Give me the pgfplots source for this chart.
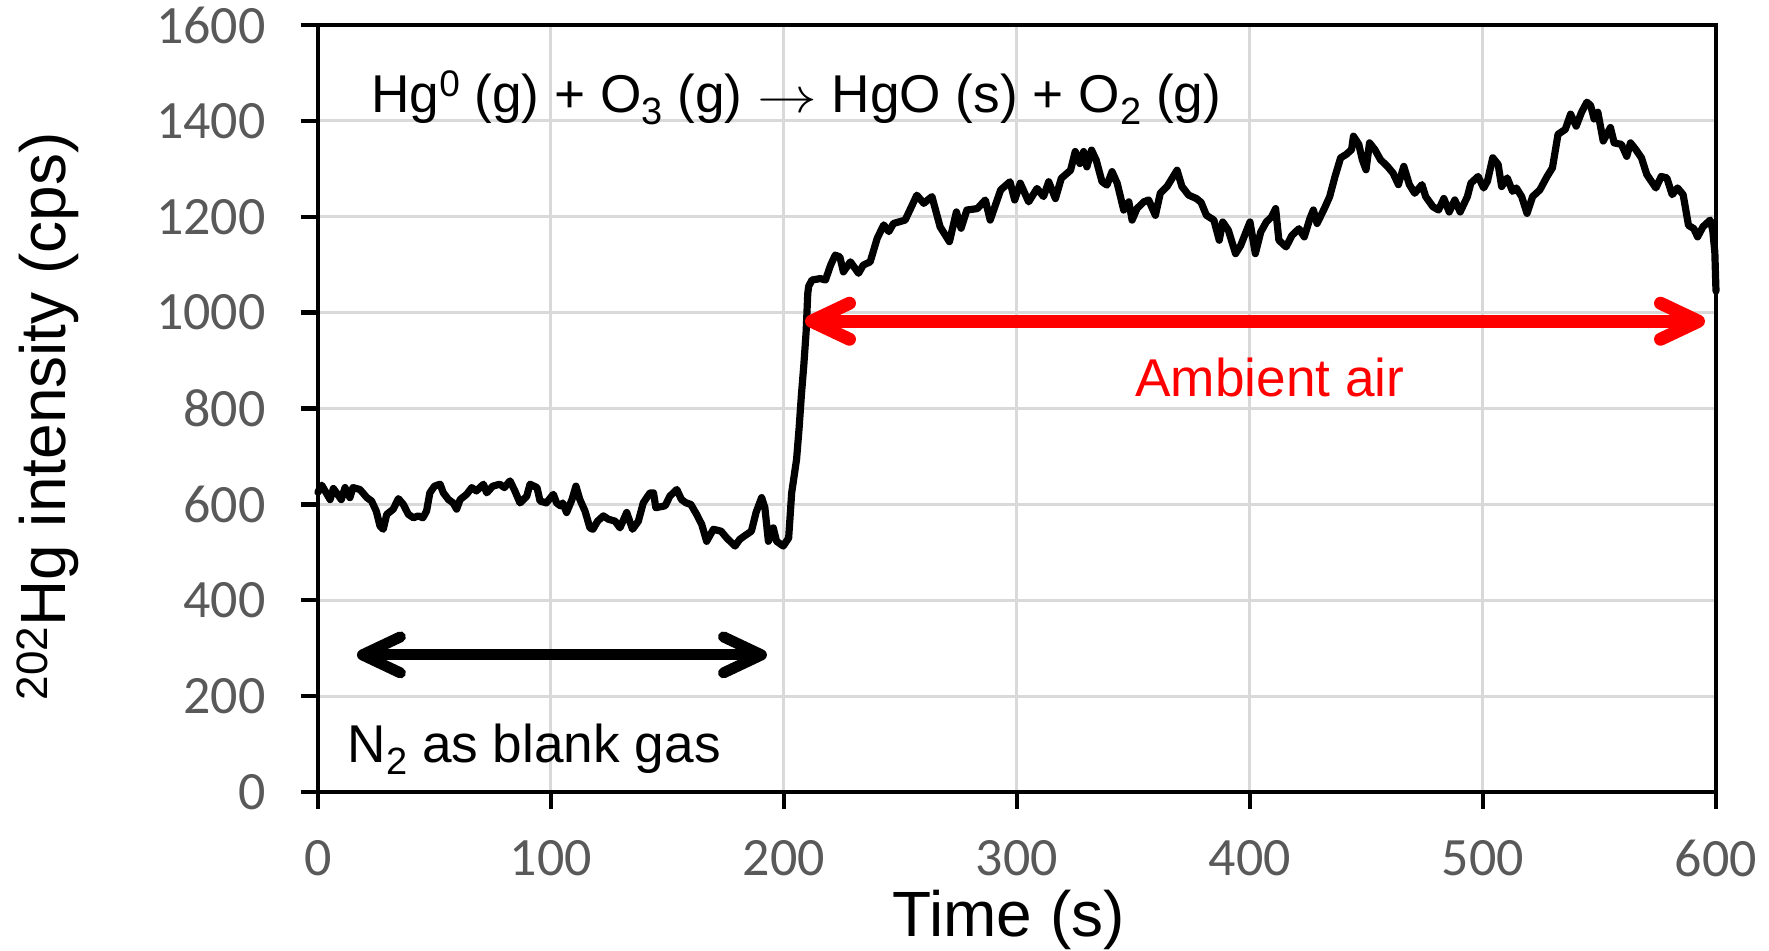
\documentclass[border=0pt]{standalone}
\usepackage{fontspec}
\setmainfont{Liberation Sans}
\newfontfamily\carlito{Carlito}
\usepackage{pgfplots}
\pgfplotsset{compat=1.18}
\usetikzlibrary{arrows.meta}
\definecolor{gridgray}{RGB}{217,217,217}
\definecolor{tickgray}{RGB}{89,89,89}
\newcommand\annfont{\fontsize{26.6}{30}\selectfont}
\newcommand\sub[1]{\raisebox{-0.22em}{\fontsize{19}{20}\selectfont #1}}
\newcommand\sups[1]{\raisebox{0.3em}{\fontsize{18.5}{20}\selectfont #1}}
\pgfplotstableread{
x y
0 625
0.9 635
1.6 640
5.2 610
6.6 633
10 610
11.6 635
13.7 614
15 635
18 631
21 614
23 607
25 586
26.6 555
28 548
29.5 579
32.3 590
34.5 612
36.6 600
38.8 579
41 572
43 576
45 572
46.6 586
48 624
50 638
52.4 642
53.8 624
56 610
58 603
59.5 590
61 610
63.8 621
66 635
68 628
71 642
72.4 624
75 638
78 642
80 635
82.4 649
84.5 628
86.7 603
89.6 617
91 642
94 635
95.3 607
98 603
101 621
102.4 603
104 597
105 603
106.7 583
109 610
110.7 638
112.4 610
114.6 586
116.7 551
118 548
120 565
122.5 576
124.6 569
127.5 565
129.6 551
132.5 583
135 548
137.5 565
139.6 603
142.5 624
144 624
145 593
149 597
151 617
154 631
156 610
158 603
160 600
162.5 579
164.7 558
166.8 523
169.7 548
173 544
175.4 530
179 513
181 527
183 534
186 544
188 583
190.4 614
191.8 593
193.3 523
195.4 551
196.8 523
199.7 513
202 530
203.3 624
205.4 694
206.5 760
207.5 830
208.5 890
209.5 960
210.2 1040
210.6 1055
212 1068
215.6 1071
217.8 1068
220 1099
222 1120
224 1116
225.5 1085
228.5 1106
232 1082
234 1099
237 1106
240 1155
242.8 1183
245 1169
247 1186
252 1193
255 1224
257 1245
260 1228
263.5 1242
267 1179
271 1148
274 1210
276 1176
278.5 1214
283 1217
286.4 1235
288.5 1193
293 1256
297 1273
299 1235
301.4 1270
305 1231
308.6 1259
311.4 1242
313.6 1273
316.5 1238
319 1280
323 1297
325 1336
327 1311
328.6 1336
330 1304
332 1339
334 1318
336.5 1273
338.6 1266
340.8 1294
343 1270
345.8 1214
348 1231
349.4 1193
351.5 1217
354.4 1231
356.5 1235
359.4 1203
361.5 1249
364.4 1263
368.7 1297
370.8 1263
373.7 1245
377 1238
379 1230
381.3 1203
384.5 1193
386.8 1151
388.3 1189
390.7 1172
393.8 1123
396 1140
397.7 1161
400 1189
402.3 1123
404.6 1168
407 1189
409.3 1200
411 1217
412.4 1151
415.5 1137
418 1161
421 1175
423.3 1158
425.7 1196
427.2 1214
428.8 1186
431.9 1217
434.2 1242
436.5 1284
438.9 1323
441.3 1330
443.6 1340
444.4 1368
446.7 1351
448.2 1319
449.8 1298
451.3 1354
453.6 1340
456 1319
459 1305
461.4 1291
463.7 1267
466 1305
468.4 1267
470.7 1249
473.8 1267
475.4 1242
478.5 1221
480.9 1214
483.2 1238
485.5 1210
487.9 1235
490.2 1210
493.3 1242
494.8 1270
497.9 1284
500.3 1260
501.9 1274
504.2 1323
506.5 1309
508 1263
510.4 1281
512.7 1253
514.3 1260
516.6 1242
518.9 1207
521.3 1242
524.4 1256
527.5 1284
529.8 1302
532.2 1372
535.3 1382
537.6 1414
540 1389
542.3 1418
544.6 1439
546.2 1432
547.7 1404
549.3 1418
551.6 1358
554.7 1386
556.3 1354
559.4 1351
561.7 1326
563.3 1354
565.6 1340
568 1323
570.3 1288
574.2 1260
576.5 1284
578.9 1281
581.2 1246
583.5 1260
585.9 1246
588.2 1182
590.5 1175
592.1 1158
594.4 1179
597.5 1193
598.6 1172
599.5 1126
600 1045
}\hgdata
\begin{document}
\begin{tikzpicture}
\begin{axis}[
  at={(0,0)}, anchor=south west,
  scale only axis, width=699pt, height=383.5pt,
  xmin=0, xmax=600, ymin=0, ymax=1600,
  xtick={0,100,...,600}, ytick={0,200,...,1600},
  grid=major, major grid style={draw=gridgray, line width=1.5pt},
  axis line style={line width=2.4pt, black},
  tick align=outside, tick pos=left,
  major tick length=8.5pt, major tick style={line width=2.2pt, black},
  ticklabel style={font=\carlito\fontsize{27}{30}\selectfont, text=tickgray, inner sep=0pt},
  /pgf/number format/assume math mode=true,
  /pgf/number format/1000 sep={},
  yticklabel style={xshift=-17.5pt},
  xticklabel style={yshift=-15.5pt},
  clip=false,
]
\addplot[black, line width=3.6pt, line join=round, line cap=round, no marks] table[x=x,y=y] {\hgdata};
\draw[line width=5.5pt, {Straight Barb[length=19pt,width=18pt,round]}-{Straight Barb[length=19pt,width=18pt,round]}] (axis cs:16.7,286) -- (axis cs:192.7,286);
\draw[red, line width=6.5pt, {Straight Barb[length=19pt,width=18pt,round]}-{Straight Barb[length=19pt,width=18pt,round]}] (axis cs:209,982) -- (axis cs:595.3,982);
\node[anchor=base west, inner sep=0pt, font=\annfont] at (axis cs:22.7,1417) {Hg\sups{0} (g) + O\sub{3} (g) \scalebox{1.2}[1]{$\rightarrow$} HgO (s) + O\sub{2} (g)};
\node[anchor=base west, inner sep=0pt, font=\annfont] at (axis cs:12.6,60.5) {N\sub{2} as blank gas};
\node[anchor=base west, inner sep=0pt, font=\annfont, text=red] at (axis cs:350.6,825) {Ambient air};
\node[anchor=base, inner sep=0pt, font=\fontsize{32}{36}\selectfont, yshift=-72.5pt] at (rel axis cs:0.494,0) {Time (s)};
\node[xshift=-151pt, rotate=90, anchor=north, inner sep=0pt, font=\fontsize{32}{36}\selectfont] at (rel axis cs:0,0.49) {\raisebox{0.28em}{\fontsize{22}{24}\selectfont 202}Hg intensity (cps)};
\end{axis}
\pgfresetboundingbox
\path[use as bounding box] (-159pt,-79.5pt) rectangle (725.5pt,396pt);
\end{tikzpicture}
\end{document}
